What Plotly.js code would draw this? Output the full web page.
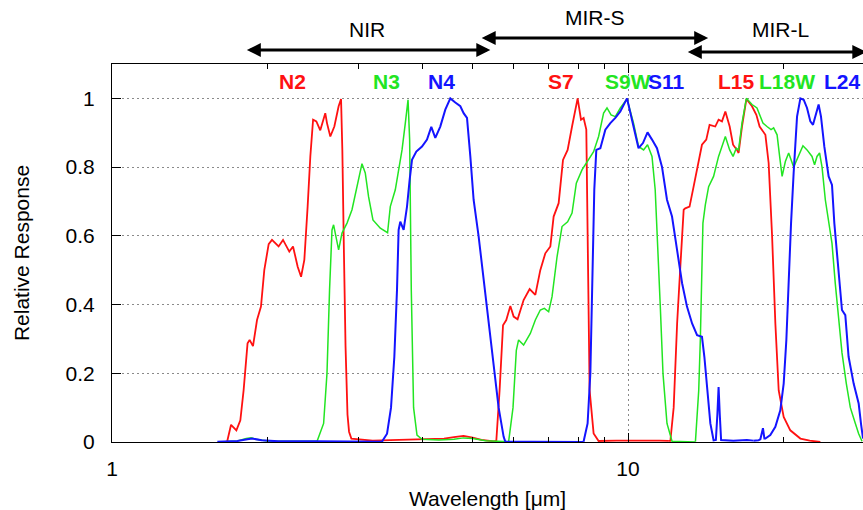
<!DOCTYPE html>
<html>
<head>
<meta charset="utf-8">
<script src="https://cdn.plot.ly/plotly-3.0.1.min.js"></script>
<style>html,body{margin:0;padding:0;background:#fff;}#chart{width:863px;height:510px;}</style>
</head>
<body>
<div id="chart"></div>
<script>
// ---- Data (wavelength in micrometres, relative response) ----
const n2Wave = [1.671, 1.701, 1.742, 1.773, 1.799, 1.831, 1.848, 1.876, 1.910, 1.944, 1.973, 2.012, 2.042, 2.103, 2.145, 2.206, 2.243, 2.290, 2.325, 2.359, 2.394, 2.423, 2.453, 2.489, 2.533, 2.571, 2.590, 2.610, 2.649, 2.697, 2.749, 2.779, 2.795, 2.815, 2.835, 2.860, 2.880, 2.910, 3.2, 3.6, 4.0, 4.4, 4.6, 4.8, 5.0, 5.2, 5.5];
const n2Resp = [0, 0.05, 0.034, 0.063, 0.15, 0.287, 0.297, 0.279, 0.355, 0.394, 0.50, 0.576, 0.588, 0.569, 0.588, 0.554, 0.569, 0.51, 0.481, 0.53, 0.685, 0.831, 0.938, 0.933, 0.907, 0.938, 0.957, 0.928, 0.889, 0.918, 0.977, 0.998, 0.85, 0.55, 0.28, 0.08, 0.03, 0.01, 0.004, 0.006, 0.008, 0.01, 0.014, 0.018, 0.013, 0.006, 0.002];

const s7Wave = [5.5, 5.556, 5.638, 5.725, 5.809, 5.915, 6.003, 6.110, 6.276, 6.447, 6.613, 6.761, 6.914, 7.071, 7.176, 7.338, 7.482, 7.638, 7.790, 7.987, 8.108, 8.203, 8.302, 8.350, 8.425, 8.577, 8.770, 9.5, 10.5, 11.5, 12.0];
const s7Resp = [0.002, 0.003, 0.15, 0.34, 0.355, 0.396, 0.365, 0.357, 0.413, 0.445, 0.428, 0.50, 0.549, 0.569, 0.656, 0.695, 0.821, 0.85, 0.918, 1.0, 0.938, 0.943, 0.909, 0.539, 0.151, 0.025, 0.003, 0.004, 0.005, 0.004, 0.003];

const l15Wave = [12.0, 12.08, 12.26, 12.45, 12.63, 12.82, 12.91, 13.16, 13.40, 13.64, 13.91, 14.18, 14.39, 14.76, 14.98, 15.21, 15.44, 15.74, 15.98, 16.26, 16.38, 16.63, 16.96, 17.39, 17.73, 17.99, 18.46, 18.73, 19.02, 19.30, 19.59, 20.03, 20.63, 21.58, 22.5, 23.59];
const l15Resp = [0.003, 0.003, 0.10, 0.345, 0.51, 0.676, 0.68, 0.685, 0.743, 0.80, 0.865, 0.88, 0.923, 0.918, 0.938, 0.933, 0.962, 0.918, 0.865, 0.85, 0.841, 0.918, 0.998, 0.977, 0.952, 0.918, 0.894, 0.812, 0.60, 0.345, 0.15, 0.073, 0.034, 0.01, 0.004, 0];

const n3Wave = [1.62, 1.75, 1.82, 1.86, 1.90, 2.0, 2.2, 2.4, 2.497, 2.571, 2.610, 2.640, 2.669, 2.688, 2.717, 2.749, 2.791, 2.854, 2.918, 2.984, 3.051, 3.096, 3.142, 3.204, 3.262, 3.311, 3.420, 3.462, 3.540, 3.593, 3.648, 3.702, 3.747, 3.774, 3.802, 3.841, 3.900, 3.988, 4.3, 4.6, 4.8, 5.0, 5.3, 5.6, 5.87];
const n3Resp = [0, 0.003, 0.01, 0.012, 0.008, 0.003, 0.002, 0.002, 0.002, 0.054, 0.2, 0.442, 0.617, 0.632, 0.598, 0.559, 0.608, 0.637, 0.676, 0.743, 0.81, 0.783, 0.714, 0.646, 0.632, 0.622, 0.609, 0.685, 0.734, 0.792, 0.85, 0.928, 0.996, 0.88, 0.442, 0.10, 0.02, 0.008, 0.006, 0.008, 0.012, 0.01, 0.004, 0.002, 0.001];

const s9wWave = [5.87, 5.986, 6.075, 6.137, 6.276, 6.467, 6.613, 6.761, 6.884, 7.018, 7.125, 7.286, 7.449, 7.638, 7.790, 7.940, 8.144, 8.388, 8.577, 8.770, 8.968, 9.105, 9.271, 9.450, 9.663, 9.956, 10.25, 10.48, 10.72, 10.91, 11.13, 11.29, 11.41, 11.55, 11.69, 11.90, 12.17, 12.8, 13.51];
const s9wResp = [0.001, 0.10, 0.267, 0.297, 0.282, 0.316, 0.355, 0.384, 0.389, 0.379, 0.423, 0.539, 0.627, 0.641, 0.666, 0.753, 0.792, 0.821, 0.845, 0.889, 0.957, 0.972, 0.952, 0.947, 0.972, 0.998, 0.928, 0.86, 0.85, 0.865, 0.831, 0.734, 0.588, 0.394, 0.199, 0.054, 0.002, 0.002, 0];

const l18wWave = [13.51, 13.71, 13.81, 13.91, 13.97, 14.12, 14.33, 14.65, 14.98, 15.44, 15.74, 15.98, 16.21, 16.38, 16.63, 16.96, 17.39, 17.78, 18.26, 18.59, 18.93, 19.15, 19.45, 19.67, 19.89, 20.18, 20.48, 20.94, 21.41, 21.83, 22.23, 22.73, 22.99, 23.24, 23.51, 23.77, 24.12, 24.48, 24.85, 25.22, 25.59, 25.98, 26.49, 26.97, 27.58, 27.99, 28.41];
const l18wResp = [0.001, 0.15, 0.30, 0.50, 0.637, 0.69, 0.743, 0.773, 0.831, 0.889, 0.85, 0.831, 0.855, 0.85, 0.928, 1.0, 0.982, 0.972, 0.928, 0.918, 0.909, 0.914, 0.894, 0.831, 0.773, 0.816, 0.841, 0.80, 0.836, 0.862, 0.85, 0.831, 0.807, 0.831, 0.841, 0.80, 0.705, 0.637, 0.578, 0.46, 0.36, 0.26, 0.17, 0.10, 0.054, 0.024, 0.002];

const n4Wave = [1.6, 1.75, 1.83, 1.87, 1.95, 2.1, 2.5, 3.0, 3.336, 3.412, 3.473, 3.525, 3.567, 3.593, 3.620, 3.674, 3.730, 3.774, 3.814, 3.888, 3.988, 4.078, 4.157, 4.232, 4.327, 4.425, 4.525, 4.627, 4.732, 4.802, 4.875, 4.948, 5.021, 5.133, 5.250, 5.368, 5.488, 5.614, 5.741, 5.784, 6.5, 7.5, 8.2];
const n4Resp = [0.001, 0.003, 0.008, 0.01, 0.005, 0.002, 0.002, 0.001, 0.001, 0.024, 0.10, 0.248, 0.442, 0.617, 0.641, 0.617, 0.685, 0.763, 0.821, 0.845, 0.86, 0.88, 0.917, 0.885, 0.918, 0.967, 1.0, 0.988, 0.977, 0.957, 0.943, 0.831, 0.705, 0.60, 0.47, 0.345, 0.225, 0.10, 0.015, 0.001, 0.001, 0.001, 0];

const s11Wave = [8.2, 8.350, 8.453, 8.535, 8.603, 8.681, 8.839, 9.038, 9.242, 9.450, 9.663, 9.956, 10.25, 10.48, 10.69, 10.91, 11.13, 11.38, 11.64, 11.90, 12.17, 12.45, 12.73, 13.01, 13.31, 13.61, 13.91, 14.06, 14.23, 14.44, 14.65, 14.80, 14.90, 14.98, 15.06, 15.15, 16.0, 17.0, 17.5];
const s11Resp = [0.001, 0.054, 0.2, 0.491, 0.734, 0.85, 0.855, 0.909, 0.928, 0.943, 0.962, 1.0, 0.918, 0.855, 0.87, 0.901, 0.88, 0.855, 0.80, 0.705, 0.656, 0.559, 0.462, 0.394, 0.345, 0.311, 0.306, 0.248, 0.151, 0.054, 0.005, 0.006, 0.08, 0.16, 0.08, 0.006, 0.004, 0.006, 0.004];

const l24Wave = [17.5, 17.9, 18.05, 18.15, 18.26, 18.38, 18.46, 18.87, 19.30, 19.73, 20.03, 20.27, 20.48, 20.70, 20.94, 21.26, 21.58, 21.90, 22.23, 22.56, 22.83, 23.07, 23.41, 23.66, 24.01, 24.48, 24.85, 25.11, 25.59, 25.98, 26.37, 26.76, 27.37, 27.99, 28.3, 28.54];
const l24Resp = [0.004, 0.005, 0.008, 0.02, 0.04, 0.01, 0.01, 0.02, 0.044, 0.092, 0.17, 0.297, 0.491, 0.637, 0.783, 0.947, 1.0, 0.996, 0.972, 0.933, 0.923, 0.947, 0.982, 0.947, 0.86, 0.773, 0.748, 0.637, 0.50, 0.384, 0.369, 0.248, 0.17, 0.112, 0.05, 0.01];

// Filter labels and the wavelength each is centred on
const filterNames = ['N2', 'N3', 'N4', 'S7', 'S9W', 'S11', 'L15', 'L18W', 'L24'];
const filterLabelWave = [2.236, 3.401, 4.360, 7.427, 10.01, 11.89, 16.21, 20.36, 26.08];

// Wavelength regions (start, end) for the arrows
const regionNames = ['NIR', 'MIR-S', 'MIR-L'];
const regionStart = [1.813, 5.17, 12.97];
const regionEnd = [5.41, 14.30, 28.96];
const regionLabelWave = [3.125, 8.64, 19.73];

// Axis ticks
const xTickVals = [1, 10];
const xTickText = ['1', '10'];
const xMinorVals = [2, 3, 4, 5, 6, 7, 8, 9, 20];
const yTickVals = [0, 0.2, 0.4, 0.6, 0.8, 1];
const yTickText = ['0', '0.2', '0.4', '0.6', '0.8', '1'];

// ---- Styling ----
const RED = '#ff1111', GREEN = '#22e522', BLUE = '#1414ff';
const FONT = '"Liberation Sans", Arial, Helvetica, sans-serif';
const filterColors = [RED, GREEN, BLUE, RED, GREEN, BLUE, RED, GREEN, BLUE];

function tr(x, y, color, w) {
  return {x: x, y: y, type: 'scatter', mode: 'lines', line: {color: color, width: w}, hoverinfo: 'skip'};
}
const traces = [
  tr(n2Wave, n2Resp, RED, 1.8), tr(s7Wave, s7Resp, RED, 1.8), tr(l15Wave, l15Resp, RED, 1.8),
  tr(n3Wave, n3Resp, GREEN, 1.5), tr(s9wWave, s9wResp, GREEN, 1.5), tr(l18wWave, l18wResp, GREEN, 1.5),
  tr(n4Wave, n4Resp, BLUE, 2.0), tr(s11Wave, s11Resp, BLUE, 2.0), tr(l24Wave, l24Resp, BLUE, 2.0)
];

const annotations = [];
filterNames.forEach((n, i) => {
  annotations.push({
    text: '<b>' + n + '</b>', x: Math.log10(filterLabelWave[i]), y: 1.05, xref: 'x', yref: 'y',
    showarrow: false, font: {family: FONT, size: 21, color: filterColors[i]}, xanchor: 'center', yanchor: 'middle'
  });
});
const arrowY = [1.037, 1.0688, 1.0317];
const labelY = [1.09, 1.124, 1.09];
regionNames.forEach((n, i) => {
  annotations.push({
    text: '', x: Math.log10(regionEnd[i]), y: arrowY[i], xref: 'x', yref: 'paper',
    ax: Math.log10(regionStart[i]), axref: 'x', ay: 0, ayref: 'pixel',
    showarrow: true, arrowside: 'end+start', arrowhead: 2, arrowsize: 1, arrowwidth: 2.8, arrowcolor: '#000', standoff: 0, startstandoff: 0
  });
  annotations.push({
    text: n, x: Math.log10(regionLabelWave[i]), y: labelY[i], xref: 'x', yref: 'paper',
    showarrow: false, font: {family: FONT, size: 21, color: '#000'}, xanchor: 'center', yanchor: 'middle'
  });
});

const layout = {
  width: 863, height: 510,
  margin: {l: 112, r: 0, t: 64, b: 68, pad: 0},
  paper_bgcolor: '#fff', plot_bgcolor: '#fff',
  showlegend: false,
  font: {family: FONT, size: 21, color: '#000'},
  xaxis: {
    type: 'log', range: [0, 1.4554], autorange: false,
    tickmode: 'array', tickvals: xTickVals, ticktext: xTickText,
    ticks: 'inside', ticklen: 9, tickwidth: 1, tickcolor: '#000',
    showline: true, linecolor: '#000', linewidth: 1, mirror: 'ticks',
    showgrid: true, gridcolor: '#8a8a8a', griddash: '2px,3px', gridwidth: 1,
    zeroline: false, ticklabelstandoff: 8,
    minor: {tickmode: 'array', tickvals: xMinorVals, ticks: 'inside', ticklen: 5, tickcolor: '#000', showgrid: false},
    title: {text: 'Wavelength [μm]', font: {family: FONT, size: 21}, standoff: 12}
  },
  yaxis: {
    range: [0, 1.1], autorange: false,
    tickmode: 'array', tickvals: yTickVals, ticktext: yTickText,
    ticks: 'inside', ticklen: 9, tickwidth: 1, tickcolor: '#000',
    showline: true, linecolor: '#000', linewidth: 1, mirror: false,
    showgrid: true, gridcolor: '#8a8a8a', griddash: '2px,3px', gridwidth: 1,
    zeroline: false, ticklabelstandoff: 12,
    title: {text: 'Relative Response', font: {family: FONT, size: 21}, standoff: 30}
  },
  annotations: annotations
};

Plotly.newPlot('chart', traces, layout, {displayModeBar: false, staticPlot: true});
</script>
</body>
</html>
